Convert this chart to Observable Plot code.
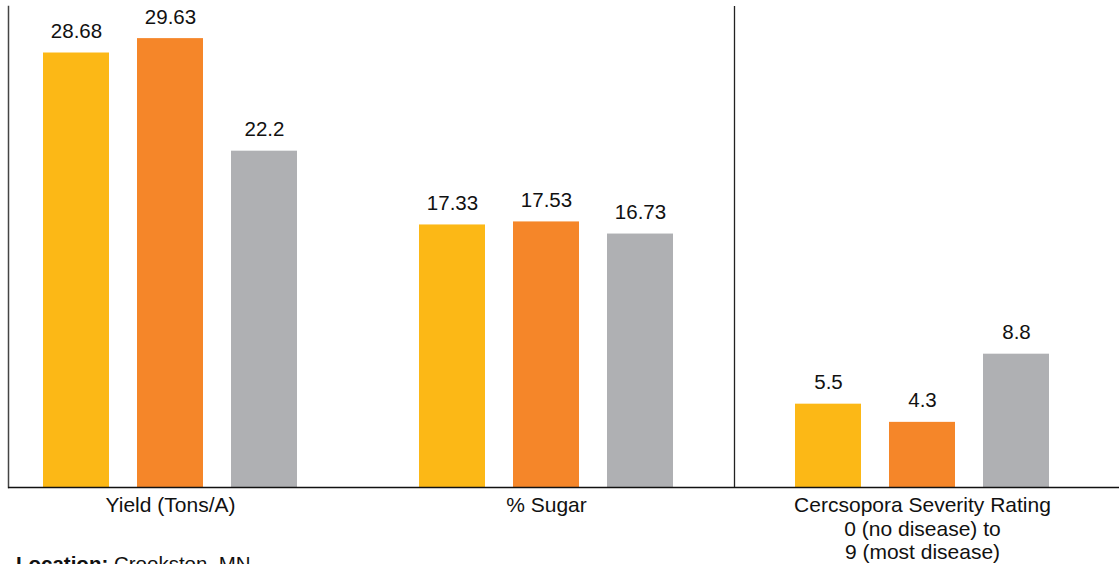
<!DOCTYPE html>
<html><head><meta charset="utf-8">
<script src="https://cdn.jsdelivr.net/npm/d3@7"></script>
<script src="https://cdn.jsdelivr.net/npm/@observablehq/plot@0.6"></script>
<style>
body{margin:0;background:#fff;font-family:"Liberation Sans",Arial,Helvetica,sans-serif;}
#caption{font-size:20.5px;margin:-12px 0 0 16px;color:#111;line-height:1.15}
</style></head><body>
<div id="chart"></div>
<div id="caption"><b>Location:</b> Crookston, MN</div>
<script>
const groups = ["Yield (Tons/A)", "% Sugar", "Cercsopora Severity Rating\n0 (no disease) to\n9 (most disease)"];
const series = ["Treatment 1", "Treatment 2", "Treatment 3"];
const yieldValues = [28.68, 29.63, 22.2];
const sugarValues = [17.33, 17.53, 16.73];
const cercValues = [5.5, 4.3, 8.8];
const colors = ["#FCB816", "#F58629", "#AFB0B3"];

const valuesByGroup = [yieldValues, sugarValues, cercValues];
const keyOf = (g, s) => g + "|" + s;
const rows = groups.flatMap((g, gi) => series.map((s, si) => ({group: g, series: s, value: valuesByGroup[gi][si], key: keyOf(g, s)})));
const domain = [];
groups.forEach((g, gi) => {
  if (gi > 0) domain.push("gap" + gi);
  series.forEach(s => domain.push(keyOf(g, s)));
});

const chart = Plot.plot({
  width: 1119,
  height: 564,
  marginLeft: 8,
  marginRight: 0,
  marginTop: 6,
  marginBottom: 77,
  style: {fontFamily: '"Liberation Sans", Arial, sans-serif', fontSize: "20px", color: "#111", background: "#fff"},
  x: {domain, paddingInner: 0.30, paddingOuter: 0.55, align: 0.33, axis: null},
  y: {domain: [0, 31.75], axis: null},
  color: {domain: series, range: colors},
  marks: [
    Plot.barY(rows, {x: "key", y: "value", fill: "series"}),
    Plot.text(rows, {x: "key", y: "value", text: d => String(d.value), lineAnchor: "bottom", dy: -15, fontSize: 20.5, fill: "#111"}),
    Plot.text(groups, {x: g => keyOf(g, series[1]), y: () => 0, text: d => d, lineAnchor: "top", dy: 8, fontSize: 21, lineHeight: 1.12, fill: "#111"}),
    Plot.frame({anchor: "left", stroke: "#444", strokeWidth: 1.5}),
    Plot.ruleX(["gap2"], {stroke: "#222", strokeWidth: 1.3}),
    Plot.ruleY([0], {stroke: "#111", strokeWidth: 1.5})
  ]
});
document.getElementById("chart").appendChild(chart);
</script>
</body></html>
